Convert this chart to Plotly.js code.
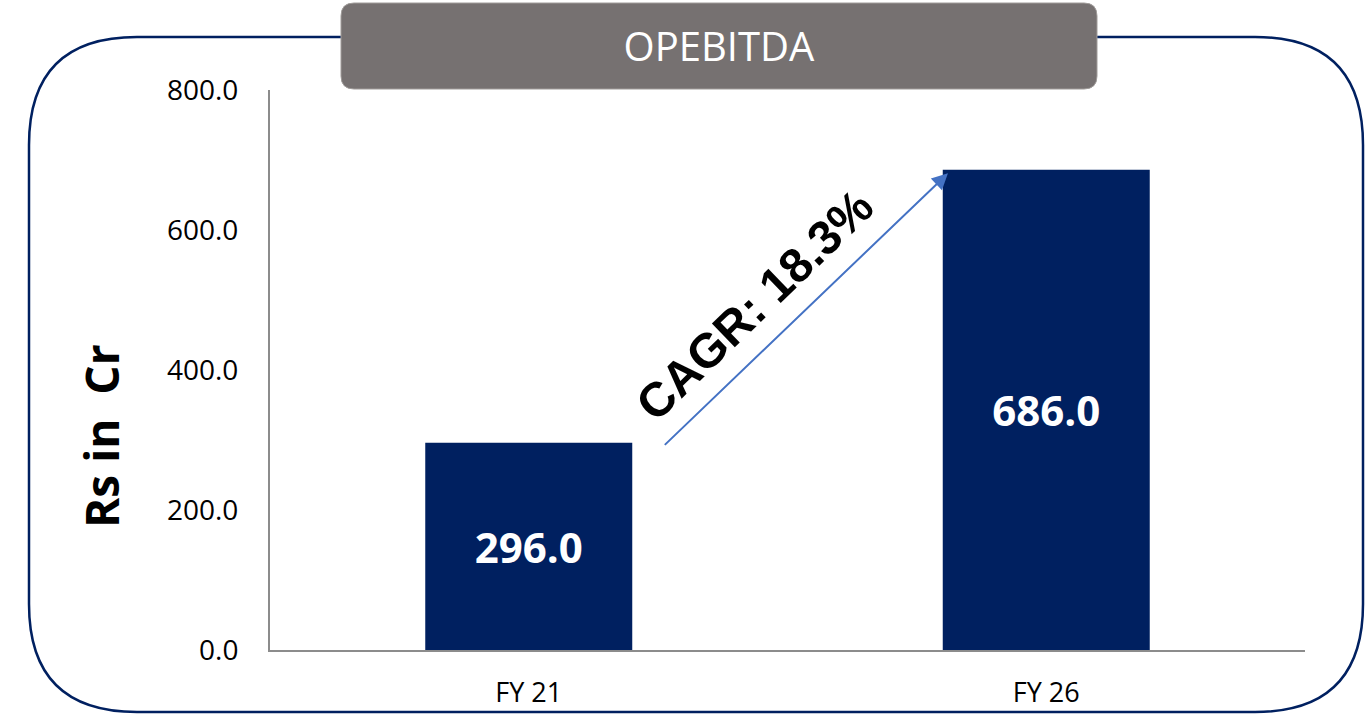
<!DOCTYPE html>
<html>
<head>
<meta charset="utf-8">
<script src="https://cdn.plot.ly/plotly-3.0.1.min.js"></script>
<style>
  html, body { margin: 0; padding: 0; background: #ffffff; }
  #chart { width: 1367px; height: 714px; }
</style>
</head>
<body>
<div id="chart"></div>
<script>
// values
const years = ["FY 21", "FY 26"];
const opebitda = [296.0, 686.0];
const cagrLabel = "CAGR: 18.3%";
const yTicks = [0, 200, 400, 600, 800];

// plot area in page pixels: x 270..1305, y 90..650
const W = 1367, H = 714;
const mL = 270, mR = 62, mT = 90, mB = 64;
const plotW = W - mL - mR, plotH = H - mT - mB;

// page px -> paper coords
function px(x) { return (x - mL) / plotW; }
function py(y) { return (H - mB - y) / plotH; }

// rounded rectangle as an svg path in paper coords
function roundRect(x0, y0, x1, y1, r) {
  return "M" + px(x0 + r) + "," + py(y0) +
    " L" + px(x1 - r) + "," + py(y0) +
    " Q" + px(x1) + "," + py(y0) + " " + px(x1) + "," + py(y0 + r) +
    " L" + px(x1) + "," + py(y1 - r) +
    " Q" + px(x1) + "," + py(y1) + " " + px(x1 - r) + "," + py(y1) +
    " L" + px(x0 + r) + "," + py(y1) +
    " Q" + px(x0) + "," + py(y1) + " " + px(x0) + "," + py(y1 - r) +
    " L" + px(x0) + "," + py(y0 + r) +
    " Q" + px(x0) + "," + py(y0) + " " + px(x0 + r) + "," + py(y0) + " Z";
}

let trace1 = {
  type: "bar",
  x: years,
  y: opebitda,
  marker: {color: "#002060"},
  texttemplate: "%{y:.1f}",
  textposition: "inside",
  insidetextanchor: "middle",
  textangle: 0,
  textfont: {family: "Open Sans", size: 42, color: "#ffffff", weight: "bold"},
  hoverinfo: "none",
  showlegend: false
};

let shapes = [
  {
    type: "path", xref: "paper", yref: "paper", layer: "below",
    path: roundRect(29, 37, 1363, 712, 108),
    line: {color: "#002060", width: 2.5},
    fillcolor: "rgba(0,0,0,0)"
  },
  {
    type: "path", xref: "paper", yref: "paper", layer: "above",
    path: roundRect(341, 3, 1097, 89, 13),
    line: {color: "#a09c9a", width: 1},
    fillcolor: "#767171"
  }
];

let annotations = [
  // growth arrow from the FY21 bar to the FY26 bar
  {
    xref: "x", yref: "y", axref: "x", ayref: "y",
    x: 1 - 0.19, y: opebitda[1] - 5,
    ax: 0 + 0.26, ay: opebitda[0] - 5,
    text: "",
    showarrow: true,
    arrowhead: 2,
    arrowsize: 1.6,
    arrowwidth: 2,
    arrowcolor: "#4472C4"
  },
  {
    xref: "paper", yref: "paper",
    x: px(754), y: py(305),
    xanchor: "center", yanchor: "middle",
    text: cagrLabel,
    textangle: -44,
    showarrow: false,
    font: {family: "Liberation Sans", size: 48, color: "#000000", weight: "bold"}
  },
  // y axis title, sits lower than the plot centre in the reference
  {
    xref: "paper", yref: "paper",
    x: px(101), y: py(436),
    xanchor: "center", yanchor: "middle",
    text: "Rs in  Cr",
    textangle: -90,
    showarrow: false,
    font: {family: "Open Sans", size: 46, color: "#000000", weight: "bold"}
  }
];

let layout = {
  width: W,
  height: H,
  margin: {l: mL, r: mR, t: mT, b: mB, pad: 0},
  paper_bgcolor: "#ffffff",
  plot_bgcolor: "#ffffff",
  bargap: 0.6,
  title: {
    text: "OPEBITDA",
    xref: "container", yref: "container",
    x: 719 / W, y: 1 - 47 / H,
    xanchor: "center", yanchor: "middle",
    font: {family: "Open Sans", size: 40, color: "#ffffff"}
  },
  xaxis: {
    type: "category",
    showline: true,
    linecolor: "#8c8c8c",
    linewidth: 2,
    showgrid: false,
    zeroline: false,
    ticks: "",
    ticklabelstandoff: 18,
    tickfont: {family: "Open Sans", size: 27, color: "#000000"},
    fixedrange: true
  },
  yaxis: {
    range: [0, 800],
    tickvals: yTicks,
    tickformat: ".1f",
    showline: true,
    linecolor: "#8c8c8c",
    linewidth: 2,
    showgrid: false,
    zeroline: false,
    ticks: "",
    ticklabelstandoff: 24,
    tickfont: {family: "Open Sans", size: 28, color: "#000000"},
    fixedrange: true
  },
  shapes: shapes,
  annotations: annotations
};

Plotly.newPlot("chart", [trace1], layout, {displayModeBar: false, staticPlot: true});
</script>
</body>
</html>
